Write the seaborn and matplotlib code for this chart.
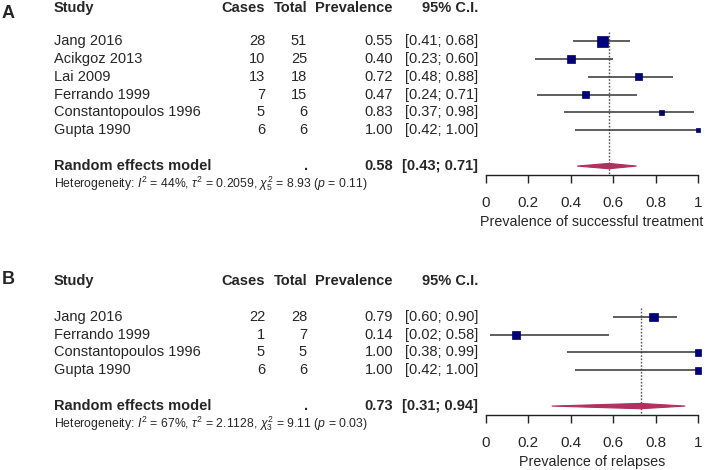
import numpy as np
import pandas as pd
import seaborn as sns
import matplotlib
matplotlib.use('Agg')
import matplotlib.pyplot as plt
from matplotlib.transforms import blended_transform_factory
from matplotlib.patches import Polygon

# 数据：A 成功治疗
a_study = ["Jang 2016", "Acikgoz 2013", "Lai 2009", "Ferrando 1999", "Constantopoulos 1996", "Gupta 1990"]
a_cases = [28, 10, 13, 7, 5, 6]
a_total = [51, 25, 18, 15, 6, 6]
a_prev = [0.55, 0.40, 0.72, 0.47, 0.83, 1.00]
a_lo = [0.41, 0.23, 0.48, 0.24, 0.37, 0.42]
a_hi = [0.68, 0.60, 0.88, 0.71, 0.98, 1.00]
a_weight = [36.4, 21.7, 14.8, 14.8, 7.5, 4.8]
a_pooled = [0.58, 0.43, 0.71]
a_het = ["44%", "0.2059", "5", "8.93", "0.11"]

# 数据：B 复发
b_study = ["Jang 2016", "Ferrando 1999", "Constantopoulos 1996", "Gupta 1990"]
b_cases = [22, 1, 5, 6]
b_total = [28, 7, 5, 6]
b_prev = [0.79, 0.14, 1.00, 1.00]
b_lo = [0.60, 0.02, 0.38, 0.42]
b_hi = [0.90, 0.58, 0.99, 1.00]
b_weight = [30.9, 27.4, 20.9, 20.9]
b_pooled = [0.73, 0.31, 0.94]
b_het = ["67%", "2.1128", "3", "9.11", "0.03"]

ticks = [0, 0.2, 0.4, 0.6, 0.8, 1]
tick_labels = ["0", "0.2", "0.4", "0.6", "0.8", "1"]

sns.set_style("white")
plt.rcParams['font.family'] = ['Liberation Sans', 'DejaVu Sans']
plt.rcParams['mathtext.fontset'] = 'custom'
plt.rcParams['mathtext.rm'] = 'Liberation Sans'
plt.rcParams['mathtext.it'] = 'Liberation Sans:italic'
plt.rcParams['mathtext.bf'] = 'Liberation Sans:bold'

W, H = 705, 470
ROW = 17.86  # 行高（像素）
FS = 10.5

fig = plt.figure(figsize=(W / 100, H / 100), dpi=100)


def draw_panel(axis_px, study, cases, total, prev, lo, hi, weight, pooled, het, xlabel, max_side, hdr):
    n = len(study)
    top_row, bottom_row = -2.2, n + 1.5
    h_px = (bottom_row - top_row) * ROW
    ax = fig.add_axes([486 / W, 1 - axis_px / H, 212 / W, h_px / H])
    ax.set_xlim(0, 1)
    ax.set_ylim(bottom_row, top_row)
    tr = blended_transform_factory(fig.transFigure, ax.transData)

    df = pd.DataFrame({"study": study, "prev": prev, "lo": lo, "hi": hi,
                       "weight": weight, "row": np.arange(n)})
    # 方块大小按权重
    side = max_side * np.sqrt(df["weight"] / df["weight"].max())
    sizes = (side * 0.72) ** 2

    ax.vlines(pooled[0], -0.5, bottom_row, colors="#555555", linestyles=(0, (1.2, 1.2)), lw=1, zorder=1)
    ax.hlines(df["row"], df["lo"], df["hi"], colors="#333333", lw=1.1, zorder=2)
    sns.scatterplot(data=df, x="prev", y="row", marker="s", s=sizes, color="#000080",
                    edgecolor="#000060", linewidth=0.5, ax=ax, zorder=3, clip_on=False, legend=False)
    ax.hlines(df["row"], df["prev"] - 0.004, df["prev"] + 0.004, colors="black", lw=1, zorder=4)

    # 合并效应菱形
    yr = n + 1
    dh = 0.15
    diamond = Polygon([(pooled[1], yr), (pooled[0], yr - dh), (pooled[2], yr), (pooled[0], yr + dh)],
                      closed=True, facecolor="#B03060", edgecolor="#B03060", lw=0.8, zorder=3)
    ax.add_patch(diamond)

    # 表格文字
    ax.text(54 / W, hdr, "Study", transform=tr, ha="left", va="center", fontsize=FS, fontweight="bold")
    ax.text(265 / W, hdr, "Cases", transform=tr, ha="right", va="center", fontsize=FS, fontweight="bold")
    ax.text(307 / W, hdr, "Total", transform=tr, ha="right", va="center", fontsize=FS, fontweight="bold")
    ax.text(393 / W, hdr, "Prevalence", transform=tr, ha="right", va="center", fontsize=FS, fontweight="bold")
    ax.text(478 / W, hdr, "95% C.I.", transform=tr, ha="right", va="center", fontsize=FS, fontweight="bold")
    for i in range(n):
        ax.text(54 / W, i, study[i], transform=tr, ha="left", va="center", fontsize=FS)
        ax.text(265 / W, i, str(cases[i]), transform=tr, ha="right", va="center", fontsize=FS)
        ax.text(307 / W, i, str(total[i]), transform=tr, ha="right", va="center", fontsize=FS)
        ax.text(393 / W, i, f"{prev[i]:.2f}", transform=tr, ha="right", va="center", fontsize=FS)
        ax.text(478 / W, i, f"[{lo[i]:.2f}; {hi[i]:.2f}]", transform=tr, ha="right", va="center", fontsize=FS)
    ax.text(54 / W, yr, "Random effects model", transform=tr, ha="left", va="center", fontsize=FS, fontweight="bold")
    ax.text(308 / W, yr, ".", transform=tr, ha="right", va="center", fontsize=FS, fontweight="bold")
    ax.text(393 / W, yr, f"{pooled[0]:.2f}", transform=tr, ha="right", va="center", fontsize=FS, fontweight="bold")
    ax.text(478 / W, yr, f"[{pooled[1]:.2f}; {pooled[2]:.2f}]", transform=tr, ha="right", va="center",
            fontsize=FS, fontweight="bold")
    het_txt = (rf"Heterogeneity: $I^2$ = {het[0]}, $\tau^2$ = {het[1]}, "
               rf"$\chi^2_{{{het[2]}}}$ = {het[3]} ($p$ = {het[4]})")
    ax.text(54 / W, n + 2, het_txt, transform=tr, ha="left", va="center", fontsize=8.8)

    # 坐标轴
    for s in ["top", "left", "right"]:
        ax.spines[s].set_visible(False)
    ax.spines["bottom"].set_color("#222222")
    ax.spines["bottom"].set_linewidth(1)
    ax.set_yticks([])
    ax.set_xticks(ticks)
    ax.set_xticklabels(tick_labels)
    ax.tick_params(axis="x", bottom=True, direction="out", length=6, width=1, color="#222222",
                   pad=9, labelsize=11)
    ax.set_xlabel("")
    ax.set_ylabel("")
    ax.annotate(xlabel, xy=(0.5, 0), xycoords="axes fraction", xytext=(0, -47 * 0.72),
                textcoords="offset points", ha="center", va="center", fontsize=10.3)
    return ax


draw_panel(175, a_study, a_cases, a_total, a_prev, a_lo, a_hi, a_weight, a_pooled, a_het,
           "Prevalence of successful treatment", 11, -1.85)
draw_panel(415, b_study, b_cases, b_total, b_prev, b_lo, b_hi, b_weight, b_pooled, b_het,
           "Prevalence of relapses", 8.5, -2)

fig.text(2 / W, 1 - 14 / H, "A", ha="left", va="center", fontsize=13, fontweight="bold")
fig.text(2 / W, 1 - 280 / H, "B", ha="left", va="center", fontsize=13, fontweight="bold")

plt.savefig("out.png", dpi=100)
